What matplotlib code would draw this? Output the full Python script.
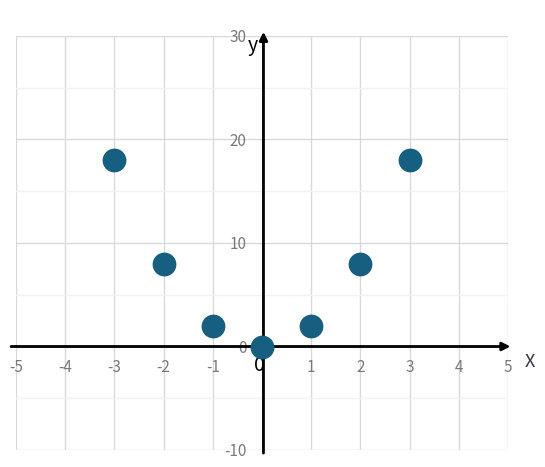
import numpy as np
import matplotlib.pyplot as plt

plt.rcParams['font.family'] = ['Noto Sans CJK JP', 'DejaVu Sans']

x_vals = [-3, -2, -1, 0, 1, 2, 3]
y_vals = [18, 8, 2, 0, 2, 8, 18]

x_ticks = [-5, -4, -3, -2, -1, 0, 1, 2, 3, 4, 5]
y_ticks = [-10, 0, 10, 20, 30]
y_minor = [-5, 5, 15, 25]

fig = plt.figure(figsize=(5.45, 4.67), dpi=100)
ax = fig.add_axes([16/545, 17/467, 492/545, 414/467])

ax.set_xlim(-5, 5)
ax.set_ylim(-10, 30)

# grid
for xv in x_ticks:
    ax.axvline(xv, color='#d9d9d9', lw=1, zorder=0)
for yv in y_ticks:
    ax.axhline(yv, color='#d9d9d9', lw=1, zorder=0)
for yv in y_minor:
    ax.axhline(yv, color='#f2f2f2', lw=1, zorder=0)

for s in ax.spines.values():
    s.set_visible(False)
ax.spines['bottom'].set_position(('data', 0))
ax.spines['left'].set_position(('data', 0))

ax.set_xticks(x_ticks)
ax.set_xticklabels(['' if v == 0 else str(v) for v in x_ticks])
ax.set_yticks(y_ticks)
ax.set_yticklabels([str(v) for v in y_ticks])
ax.tick_params(axis='x', length=0, pad=9, labelsize=11, labelcolor='#7a7a7a')
ax.tick_params(axis='y', length=0, pad=11, labelsize=11, labelcolor='#7a7a7a')

# axes arrows
ax.annotate('', xy=(5.05, 0), xytext=(-5.1, 0), annotation_clip=False,
            arrowprops=dict(arrowstyle='-|>', color='black', lw=2,
                            mutation_scale=12, shrinkA=0, shrinkB=0))
ax.annotate('', xy=(0.03, 30.4), xytext=(0.03, -10.3), annotation_clip=False,
            arrowprops=dict(arrowstyle='-|>', color='black', lw=2,
                            mutation_scale=12, shrinkA=0, shrinkB=0))

ax.scatter(x_vals, y_vals, s=260, color='#165f80', zorder=5, clip_on=False)

ax.text(-0.06, -1.8, '0', fontsize=14, color='black', ha='center', va='center')
ax.text(-0.18, 29.1, 'y', fontsize=14, color='black', ha='center', va='center')
ax.text(5.45, -1.5, 'X', fontsize=13, color='#333344', ha='center', va='center')

fig.savefig('out.png', dpi=100)
